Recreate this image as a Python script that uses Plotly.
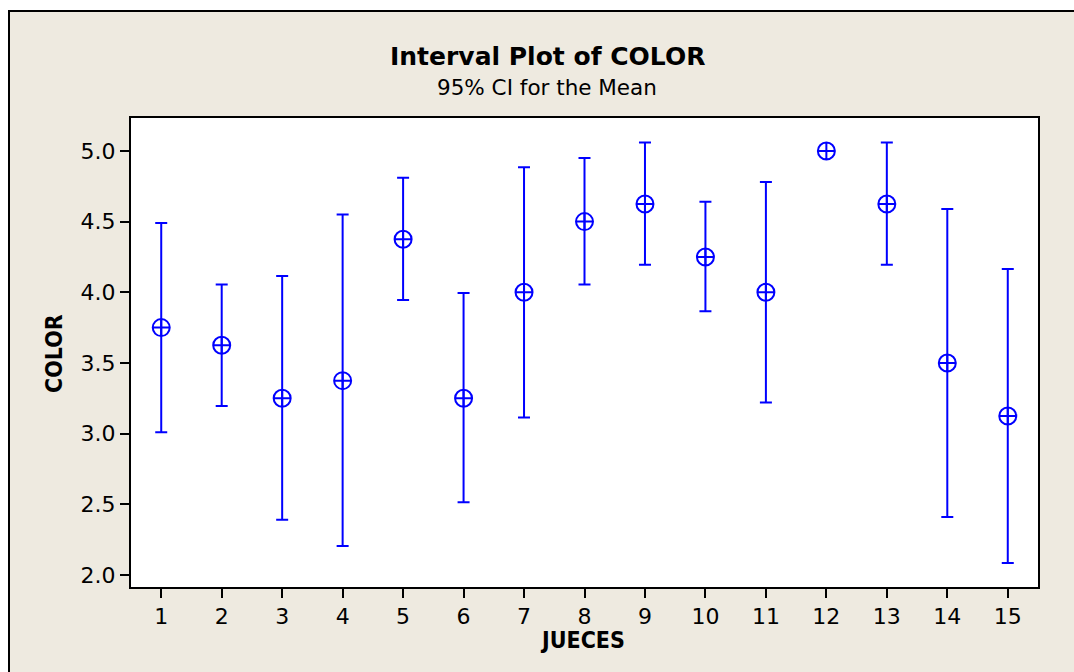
import plotly.graph_objects as go

jueces = list(range(1, 16))
means = [3.75, 3.625, 3.25, 3.375, 4.375, 3.25, 4.0, 4.5, 4.625, 4.25, 4.0, 5.0, 4.625, 3.5, 3.125]
upper = [4.49, 4.055, 4.115, 4.55, 4.81, 3.995, 4.885, 4.95, 5.06, 4.64, 4.78, 5.0, 5.06, 4.59, 4.165]
lower = [3.01, 3.195, 2.39, 2.205, 3.945, 2.515, 3.115, 4.055, 4.195, 3.865, 3.22, 5.0, 4.195, 2.41, 2.085]
y_ticks = [2.0, 2.5, 3.0, 3.5, 4.0, 4.5, 5.0]

err_plus = [u - m for u, m in zip(upper, means)]
err_minus = [m - l for m, l in zip(means, lower)]

BLUE = "#0000FF"
fig = go.Figure()
fig.add_trace(go.Scatter(
    x=jueces, y=means, mode="markers",
    marker=dict(symbol="circle-cross-open", size=17, color=BLUE, line=dict(width=2, color=BLUE)),
    error_y=dict(type="data", symmetric=False, array=err_plus, arrayminus=err_minus,
                 color=BLUE, thickness=2, width=6),
    showlegend=False,
))

W, H = 1074, 672
L, R, T, B = 131, 1038, 118, 587
pw, ph = R - L, B - T

def px(x):
    return (x - L) / pw

def py(y):
    return (B - y) / ph

font_tick = dict(family="DejaVu Sans", size=22, color="black")
axis_common = dict(showline=True, mirror=True, linecolor="black", linewidth=2,
                   ticks="outside", ticklen=9, tickwidth=1.5, tickcolor="black",
                   showgrid=False, zeroline=False, tickfont=font_tick)

fig.update_xaxes(range=[0.5, 15.5], tickmode="array", tickvals=jueces,
                 ticktext=[str(j) for j in jueces], **axis_common)
fig.update_yaxes(range=[1.915, 5.233], tickmode="array", tickvals=y_ticks,
                 ticktext=[f"{v:.1f}" for v in y_ticks], **axis_common)

narrow_bold = "Liberation Sans Narrow, DejaVu Sans Condensed, Arial Narrow, sans-serif"

fig.update_layout(
    width=W, height=H,
    margin=dict(l=L, r=W - R, t=T, b=H - B, pad=0),
    paper_bgcolor="#EEEAE0", plot_bgcolor="white",
    annotations=[
        dict(text="<b>Interval Plot of COLOR</b>", x=px(547), y=py(57), xref="paper", yref="paper",
             xanchor="center", yanchor="middle", showarrow=False,
             font=dict(family="DejaVu Sans", size=25, color="black")),
        dict(text="95% CI for the Mean", x=px(547), y=py(88), xref="paper", yref="paper",
             xanchor="center", yanchor="middle", showarrow=False,
             font=dict(family="DejaVu Sans", size=21.5, color="black")),
        dict(text="<b>JUECES</b>", x=px(582), y=py(640), xref="paper", yref="paper",
             xanchor="center", yanchor="middle", showarrow=False,
             font=dict(family=narrow_bold, size=23, color="black")),
        dict(text="<b>COLOR</b>", x=px(54), y=py(354), xref="paper", yref="paper",
             xanchor="center", yanchor="middle", showarrow=False, textangle=-90,
             font=dict(family=narrow_bold, size=23, color="black")),
    ],
    shapes=[
        dict(type="rect", xref="paper", yref="paper", x0=px(-10), x1=px(8), y0=py(700), y1=py(-10),
             fillcolor="white", line=dict(width=0), layer="below"),
        dict(type="rect", xref="paper", yref="paper", x0=px(-10), x1=px(1100), y0=py(10), y1=py(-10),
             fillcolor="white", line=dict(width=0), layer="below"),
        dict(type="rect", xref="paper", yref="paper", x0=px(9), x1=px(1100), y0=py(700), y1=py(11),
             fillcolor="rgba(0,0,0,0)", line=dict(width=2, color="black"), layer="below"),
    ],
)

fig.write_html("out.html")
